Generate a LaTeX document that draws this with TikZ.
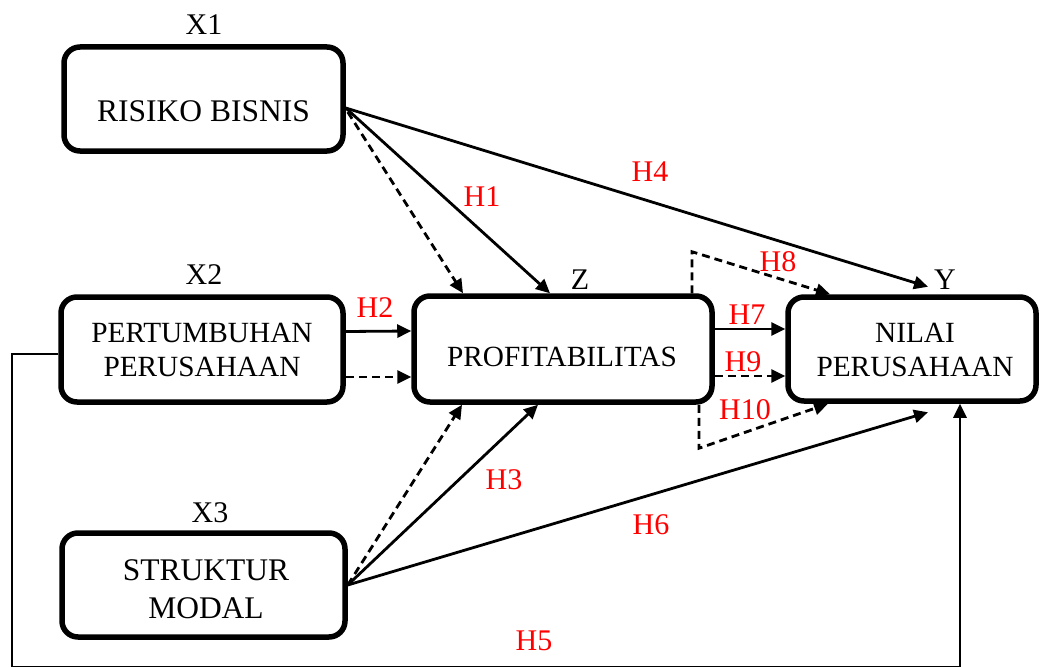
\documentclass[tikz,border=0pt]{standalone}
\usepackage{fontspec}
\setmainfont{Liberation Serif}
\usetikzlibrary{arrows.meta}
\begin{document}
\begin{tikzpicture}[x=1pt,y=-1pt,
  box/.style={draw, line width=5.5pt, rounded corners=16pt, inner sep=0pt, fill=white},
  txt/.style={inner sep=0pt, align=center, font=\fontsize{29.3}{34}\selectfont},
  bigtxt/.style={inner sep=0pt, align=center, font=\fontsize{31.5}{38}\selectfont},
  var/.style={inner sep=0pt, font=\fontsize{30}{34}\selectfont},
  hyp/.style={inner sep=0pt, text=red, font=\fontsize{30}{34}\selectfont},
  conn/.style={line width=2.8pt, -{Triangle[length=14pt,width=13pt]}},
  dconn/.style={conn, dash pattern=on 8pt off 5pt}]
\useasboundingbox (0,0) rectangle (1040,666);
% boxes
\node[box, minimum width=279pt, minimum height=104pt] (x1) at (203.5,99) {};
\node[box, minimum width=282pt, minimum height=105pt] (x2) at (202,349.5) {};
\node[box, minimum width=283pt, minimum height=104pt] (x3) at (203.5,585) {};
\node[box, minimum width=298pt, minimum height=106pt] (z) at (563,349) {};
\node[box, minimum width=248pt, minimum height=104pt] (y) at (912,349) {};
% box texts
\node[bigtxt] (x1t) at (203.5,111) {RISIKO BISNIS};
\node[txt] (x2t) at (202,349.5) {PERTUMBUHAN\\PERUSAHAAN};
\node[bigtxt] (x3t) at (206,589) {STRUKTUR\\MODAL};
\node[txt] (zt) at (562,357) {PROFITABILITAS};
\node[txt] (yt) at (915,350) {NILAI\\PERUSAHAAN};
% variable labels
\node[var] (lx1) at (204,25) {X1};
\node[var] (lx2) at (204,275) {X2};
\node[var] (lx3) at (210,513) {X3};
\node[var] (lz) at (580,280) {Z};
\node[var] (ly) at (945,280) {Y};
% connectors from X1
\draw[conn] ([yshift=-9pt]x1.east) -- ([xshift=16pt,yshift=7.5pt]y.north);
\draw[conn] ([yshift=-9pt]x1.east) -- ([xshift=-13pt]z.north);
\draw[dconn] ([xshift=2pt,yshift=-13pt]x1.east) -- ([xshift=-100pt]z.north);
% connectors from X2
\draw[conn] ([yshift=18pt]x2.east) -- ([yshift=18pt]z.west);
\draw[dconn] ([yshift=-27.5pt]x2.east) -- ([yshift=-28pt]z.west);
% connectors from X3
\draw[dconn] (x3.east) -- ([xshift=-101pt]z.south);
\draw[conn] (x3.east) -- ([xshift=-25pt]z.south);
\draw[conn] (x3.east) -- ([xshift=16pt,yshift=-8.5pt]y.south);
% connectors from Z
\draw[conn] ([yshift=20pt]z.east) -- ([yshift=20pt]y.west);
\draw[dconn] ([yshift=-27pt]z.east) -- ([yshift=-27pt]y.west);
\coordinate (h8c) at ([xshift=129pt,yshift=41.5pt]z.north);
\draw[dconn] ([xshift=129pt]z.north) -- (h8c) -- ([xshift=-82pt]y.north);
\coordinate (h10c) at ([xshift=136pt,yshift=-43.5pt]z.south);
\draw[dconn] ([xshift=136pt]z.south) -- (h10c) -- ([xshift=-84pt]y.south);
% loop from X2 to Y
\coordinate (lpa) at (12,667);
\draw[conn] ([yshift=-4.5pt]x2.west) -| (lpa) -| ([xshift=48pt]y.south);
% hypothesis labels
\node[hyp] (h1) at (482,197) {H1};
\node[hyp] (h2) at (375,308) {H2};
\node[hyp] (h3) at (504,480) {H3};
\node[hyp] (h4) at (650,172) {H4};
\node[hyp] (h5) at (534,641) {H5};
\node[hyp] (h6) at (651,525) {H6};
\node[hyp] (h7) at (747,315) {H7};
\node[hyp] (h8) at (778,262) {H8};
\node[hyp] (h9) at (743,362) {H9};
\node[hyp] (h10) at (745,410) {H10};
\end{tikzpicture}
\end{document}
